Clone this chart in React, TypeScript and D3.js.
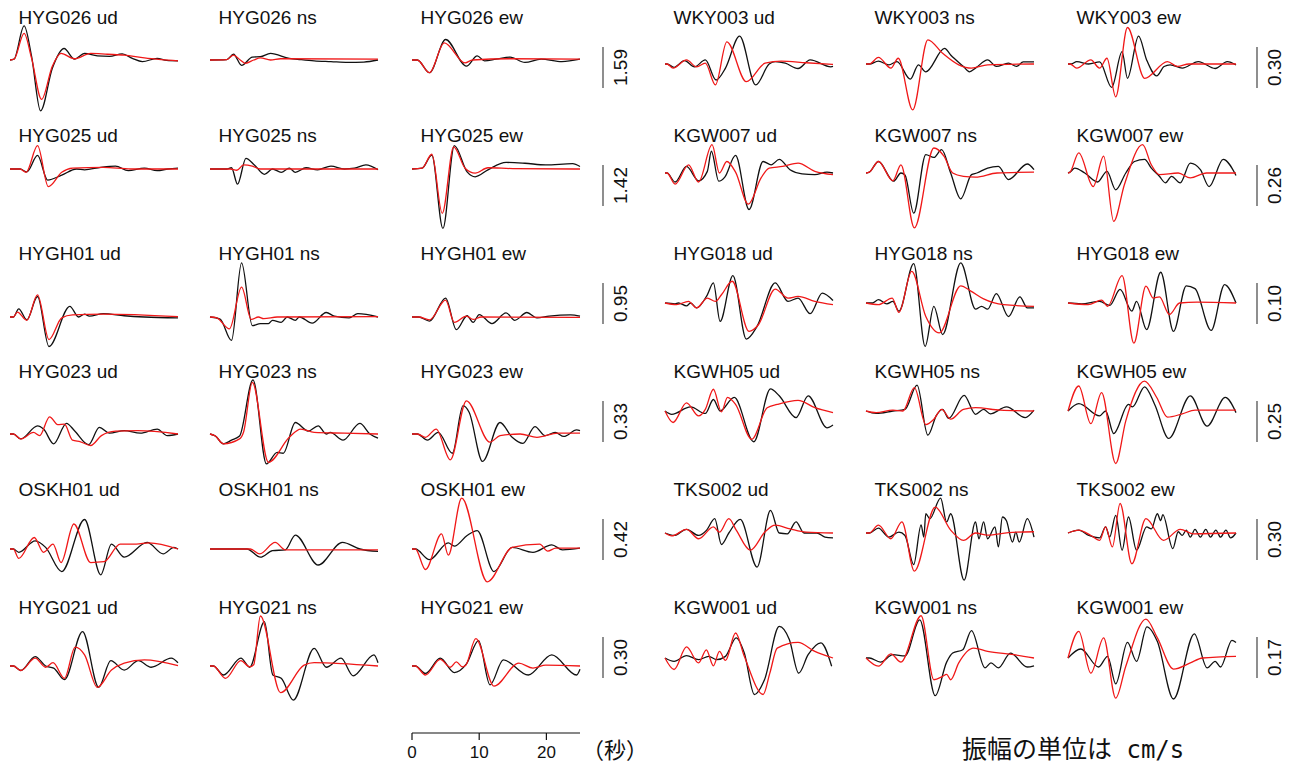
import React from "react";
import * as d3 from "d3";

// ---------- DATA ----------
const stations = ["HYG026", "HYG025", "HYGH01", "HYG023", "OSKH01", "HYG021", "WKY003", "KGW007", "HYG018", "KGWH05", "TKS002", "KGW001"];
const components = ["ud", "ns", "ew"];
// amplitude (cm/s) represented by each row's scale bar
const amplitudes = [1.59, 1.42, 0.95, 0.33, 0.42, 0.3, 0.3, 0.26, 0.1, 0.25, 0.3, 0.17];
const timeTicks = [0, 10, 20];
const timeMax = 25;

// traces: [time (s), amplitude relative to scale bar]; order ud, ns, ew
const obsHYG026 = [
  [[0,0],[0.6,0.02],[2.1,0.83],[3.2,0.1],[4.55,-1.24],[6.3,-0.2],[8.05,0.28],[9.6,0.02],[11.1,0.16],[13,0.1],[14.8,0.09],[16.7,0.15],[18.2,0.04],[19.7,-0.04],[21.9,0.04],[23.3,-0.01],[25,-0.02]],
  [[0,0],[2.5,0.01],[3.5,0.14],[4.7,-0.13],[6.3,0.07],[7.5,0.08],[9.0,0.16],[11.8,0.04],[13.5,0.01],[15.5,-0.02],[18,-0.04],[20.5,-0.06],[22.9,-0.05],[25,0]],
  [[0,0],[0.8,0],[2.6,-0.31],[5.0,0.5],[8.1,-0.15],[9.7,0.1],[10.8,-0.02],[12.5,0.02],[14.6,0.07],[16.8,-0.06],[19.2,0.02],[22.3,-0.04],[25,0.02]],
];
const synHYG026 = [
  [[0,0],[0.6,0.02],[2.1,0.65],[3.2,0.05],[4.7,-0.96],[6.3,-0.15],[7.6,0.16],[9.6,0.03],[12,0.16],[14.5,0.14],[17,0.12],[20,0.05],[22.5,0.01],[25,-0.02]],
  [[0,0],[2.5,0.01],[3.5,0.12],[4.5,0],[5.3,-0.08],[6.5,0],[7.5,0.05],[9,0],[10.5,0.03],[25,0.02]],
  [[0,0],[0.8,0],[2.6,-0.31],[4.8,0.42],[7.9,-0.07],[9,0],[14.5,0.03],[25,0.02]],
];
const obsHYG025 = [
  [[0,0],[1.5,0],[2.5,-0.07],[4.1,0.33],[5.6,-0.27],[7.7,-0.15],[9.9,0],[11.1,-0.02],[13.5,0.04],[15.7,0.07],[17.6,-0.04],[20,0.02],[21.9,-0.04],[23.5,0],[25,0.02]],
  [[0,0],[2.5,0],[3.2,0.03],[4.1,-0.37],[5.35,0.26],[6.6,0.1],[8.1,-0.13],[9.3,0],[10.6,-0.08],[11.8,0.02],[12.7,-0.08],[14.3,0.03],[16,-0.02],[18,0.07],[20,0],[21.5,0.02],[23.2,0.1],[25,-0.02]],
  [[0,0],[1.5,0.02],[2.95,0.34],[4.6,-1.45],[6.3,0.57],[8.2,-0.07],[9.4,-0.19],[11.3,-0.02],[14,0.16],[16.8,0.14],[19.9,0.1],[23.9,0.13],[25,0.06]],
];
const synHYG025 = [
  [[0,0],[1.5,0],[2.4,-0.08],[4.1,0.57],[5.7,-0.43],[7.7,-0.08],[9.3,0.02],[13.9,0.04],[18,0],[25,0]],
  [[0,0],[3,0],[4,-0.03],[5,0.1],[6.3,0.07],[7.5,0],[25,0]],
  [[0,0],[1.5,0.02],[2.95,0.36],[4.5,-1.08],[6.2,0.54],[7.9,0.02],[9.4,-0.1],[11.3,0.03],[15,0.01],[25,0]],
];
const obsHYGH01 = [
  [[0,0],[0.5,0],[1.3,0.2],[2.5,-0.07],[4.1,0.5],[5.8,-0.72],[8.9,0.26],[10.2,0],[11.1,0.07],[11.8,0.02],[13.9,0.08],[17,0.03],[20,0],[25,-0.02]],
  [[0,0],[1.5,-0.05],[3.2,-0.57],[4.7,1.32],[6.3,-0.21],[7.5,-0.16],[8.7,-0.16],[9.3,-0.08],[10.6,-0.13],[11.5,0],[12.7,-0.08],[13.3,0],[15.2,-0.15],[17.3,0.11],[18.5,0.02],[20.7,-0.02],[22,0.08],[25,0]],
  [[0,0],[1,0],[2.6,-0.1],[5.0,0.46],[6.6,-0.31],[8.2,0.03],[9.1,-0.13],[10,0.06],[11.9,-0.16],[14,0.1],[15.3,-0.08],[17.1,0.11],[18.6,-0.02],[20.4,0.02],[23.6,0.05],[25,0.02]],
];
const synHYGH01 = [
  [[0,0],[0.5,0],[1.1,0.12],[2.5,-0.08],[4.1,0.54],[5.8,-0.55],[7.7,-0.02],[9.3,0.05],[13.9,0.07],[25,0.01]],
  [[0,0],[1,-0.02],[2.9,-0.29],[4.7,0.73],[6.15,-0.06],[7.2,0],[8,-0.04],[10,0],[25,0.01]],
  [[0,0],[1,0],[2.6,-0.07],[5.0,0.41],[6.3,-0.13],[8.1,0.02],[9.1,-0.06],[10.3,0],[25,-0.01]],
];
const obsHYG023 = [
  [[0,0],[0.5,0],[1.6,-0.12],[4.1,0.2],[5.0,0.12],[6.5,-0.24],[8.4,0.26],[9.6,0.08],[11.7,-0.26],[13.3,0.16],[14.8,0.02],[17,0.08],[19.4,0.02],[21.9,0.12],[23.4,-0.04],[25,0]],
  [[0,0],[0.8,-0.05],[2.0,-0.24],[3.2,-0.15],[4.4,-0.05],[6.4,1.32],[8.4,-0.73],[10,-0.45],[10.9,-0.47],[12.7,0.28],[14.6,0.07],[16.1,0.2],[17.3,0],[17.9,0.04],[19.8,-0.15],[22.3,0.26],[23.8,0],[25,-0.1]],
  [[0,0],[0.8,0],[2.3,-0.15],[3.9,0.04],[6.0,-0.47],[7.6,0.69],[8.5,0.53],[10.5,-0.67],[13.1,0.28],[14.9,-0.08],[16.5,-0.23],[18.3,0.18],[19.8,-0.04],[21.3,0.04],[22.6,-0.06],[24.5,0.1],[25,0.08]],
];
const synHYG023 = [
  [[0,0],[0.5,0],[1.6,-0.12],[3.5,0.04],[4.4,-0.04],[5.9,0.42],[7.1,0.23],[8.1,0.24],[9.3,-0.15],[10.5,-0.19],[12,-0.28],[13.6,-0.04],[15.7,0.07],[19,0.08],[25,0]],
  [[0,0],[0.8,-0.05],[2.0,-0.24],[4.4,-0.12],[5.0,0.05],[6.3,1.26],[8.7,-0.69],[11.8,-0.08],[13.5,0.12],[15.5,0.04],[20,0.02],[25,0]],
  [[0,0],[0.8,0],[2.0,-0.08],[3.6,0.12],[5.7,-0.63],[8.1,0.81],[11.6,-0.2],[13.1,-0.04],[16.1,0],[18.6,-0.08],[21.7,0.02],[25,0.02]],
];
const obsOSKH01 = [
  [[0,0],[0.5,0],[1.3,-0.08],[3.75,0.2],[5.3,0.04],[7.7,-0.55],[11.1,0.72],[13.5,-0.63],[15.1,0.12],[17,-0.2],[20.4,0.16],[22.8,-0.12],[24.4,0.04],[25,0]],
  [[0,0],[5.5,0],[7.5,-0.2],[9.3,-0.04],[11.2,-0.02],[12.7,0.34],[16.1,-0.39],[19.7,0.16],[22.3,0],[25,-0.06]],
  [[0,0],[0.5,0],[2.6,-0.26],[5.4,0.15],[6.3,0.07],[8.2,0.33],[9.7,0.45],[12.2,-0.55],[14.9,0.04],[18,-0.08],[20.8,0.1],[22.4,-0.02],[25,0.02]],
];
const synOSKH01 = [
  [[0,0],[0.5,0],[1.3,-0.23],[3.6,0.28],[5,-0.08],[6.4,0.12],[7.6,-0.33],[9.5,0.61],[12,-0.33],[14,-0.31],[16.4,0.12],[18.8,0.12],[20.7,0.15],[25,0]],
  [[0,0],[6.0,0],[7.4,-0.12],[9.7,0.16],[11.2,-0.02],[25,-0.02]],
  [[0,0],[0.5,0],[2.0,-0.5],[4.4,0.37],[5.4,-0.15],[7.4,1.24],[11.2,-0.8],[14.9,0.04],[19,0.12],[20.2,-0.05],[21.4,0.02],[25,0.02]],
];
const obsHYG021 = [
  [[0,0],[0.5,0],[1.6,-0.11],[3.75,0.23],[5.3,0],[6.5,-0.05],[8.1,-0.33],[10.8,0.84],[13.2,-0.52],[15,0.13],[17,-0.1],[19.1,0.13],[21,-0.03],[24,0.19],[25,0.08]],
  [[0,0],[0.5,0],[2.0,-0.22],[4.6,0.19],[5.9,-0.03],[8.1,1.08],[9.35,-0.22],[10.6,-0.3],[12.4,-0.83],[15.5,0.43],[17.3,-0.03],[19.5,0.19],[21.3,-0.24],[24.4,0.27],[25,0.08]],
  [[0,0],[0.5,0],[2,-0.18],[4.2,0.19],[6.3,-0.16],[8.1,0.05],[9.9,0.62],[11.6,-0.46],[13.6,0.15],[17.3,-0.22],[20.8,0.27],[24.5,-0.22],[25,-0.08]],
];
const synHYG021 = [
  [[0,0],[0.5,0],[1.6,-0.11],[3.75,0.19],[5.3,-0.03],[6.4,0.08],[8.1,-0.3],[9.7,0.46],[11.1,0.27],[13,-0.52],[15.1,-0.1],[17,0.07],[20,0.15],[25,0.01]],
  [[0,0],[0.5,0],[2.3,-0.3],[4.6,0.13],[5.9,-0.02],[6.5,0.03],[7.5,1.22],[10.5,-0.65],[14,0.02],[15.5,0.08],[19.5,0.06],[25,0]],
  [[0,0],[0.5,0],[2,-0.22],[4.2,0.16],[5.7,-0.03],[6.6,0.1],[7.5,-0.02],[8.0,0.02],[9.5,0.67],[12.2,-0.49],[15.9,0.07],[18.0,-0.05],[19.9,0.02],[25,0]],
];
const obsWKY003 = [
  [[0,0],[0.3,0],[1.35,-0.08],[2.9,0.08],[4.4,-0.07],[6,0.1],[7.6,-0.39],[9.0,-0.1],[11.1,0.68],[13.5,-0.51],[15.5,0],[16.4,0.06],[17.9,0.02],[19.8,-0.11],[21.6,0.1],[24.7,-0.07],[25,-0.06]],
  [[0,0],[0.5,0],[1.85,0.07],[3.4,-0.02],[4.6,0.06],[6.6,-0.37],[7.8,-0.02],[8.9,-0.19],[11.7,0.38],[12.6,0.22],[14.5,-0.06],[15.4,-0.19],[16.3,-0.1],[18.1,0.1],[19.4,-0.06],[21.2,0.02],[22.4,-0.06],[23.4,0.05],[25,0.05]],
  [[0,0],[0.5,0],[1.3,0.06],[3.1,0],[4.7,0.05],[6.5,-0.57],[8.05,0.3],[8.85,-0.35],[10.5,0.68],[11.7,0.1],[13.2,-0.29],[14.3,-0.06],[15.2,-0.02],[17.0,-0.1],[19.4,0.06],[21.9,-0.11],[23.7,0.06],[25,-0.02]],
];
const synWKY003 = [
  [[0,0],[0.3,0],[1.2,-0.1],[3.2,0.1],[4.7,-0.07],[6,0.02],[7.5,-0.51],[9.2,0.54],[12.1,-0.43],[14.9,0.02],[17.3,0.07],[21,0.03],[25,-0.01]],
  [[0,0],[0.5,0],[1.85,0.16],[3.7,-0.1],[4.8,0.14],[6.95,-1.12],[9.2,0.59],[11.4,0.26],[13.8,-0.02],[15.7,-0.1],[18.1,-0.02],[25,0]],
  [[0,0],[0.3,0],[1.3,-0.1],[3.4,0.1],[4.7,-0.1],[5.8,0.14],[7.1,-0.8],[8.85,0.89],[11.4,-0.35],[14.8,0.06],[16.3,-0.06],[18,0],[25,0]],
];
const obsKGW007 = [
  [[0,0],[0.3,0],[1.5,-0.22],[3.2,0.16],[5,-0.19],[6.3,0.04],[6.9,0.53],[8,-0.2],[8.9,-0.1],[10.5,0.43],[12.5,-0.89],[14.6,0.28],[15.8,0.2],[17,0.33],[18.6,0.08],[20.4,-0.02],[22.3,-0.04],[24.1,0.02],[25,0]],
  [[0,0],[0.5,0.02],[1.85,0.28],[4.1,-0.2],[5.2,0],[5.8,-0.05],[7.1,-0.98],[8.9,0.45],[10.1,0.38],[11.25,0.57],[12.6,0],[14.1,-0.63],[15.7,-0.04],[16.5,0],[18.1,0.12],[19.7,0.16],[21.2,-0.16],[24,0.22],[25,0.08]],
  [[0,0],[0.3,0.02],[1,0.12],[2.5,0],[4.4,-0.22],[5.8,0.04],[7.1,-0.41],[8.6,0],[9.9,0.28],[11.4,0.33],[12.4,0.12],[13.6,-0.08],[14.5,-0.24],[15.4,-0.08],[16.7,-0.24],[18.2,0.24],[19.7,0.08],[21,-0.33],[23.1,0.33],[25,-0.06]],
];
const synKGW007 = [
  [[0,0],[0.3,0],[1.5,-0.27],[3.5,0.2],[5,-0.22],[7,0.69],[8.1,0],[9.2,0.28],[10.5,0.02],[12.4,-0.76],[14.3,-0.12],[15.5,0.12],[17.5,0.16],[19.8,0.24],[22.3,0.04],[25,-0.04]],
  [[0,0],[0.5,0.02],[1.85,0.28],[4,-0.19],[5.2,0.2],[7.2,-1.34],[10.1,0.61],[11.6,0.41],[12.9,0],[14.5,-0.08],[16.3,-0.1],[19.5,0],[25,0.02]],
  [[0,0],[0.3,0.02],[1.6,0.49],[3.75,-0.33],[5.3,0.41],[6.8,-1.18],[8.4,-0.28],[11.1,0.69],[12.4,0.2],[13.6,-0.04],[16.4,0],[18.2,-0.12],[20.6,0],[25,0]],
];
const obsHYG018 = [
  [[0,0],[1.5,-0.02],[2.0,0],[3.2,-0.07],[3.8,0],[4.7,-0.12],[6.3,0.2],[7.2,0.49],[8.2,-0.45],[10.1,0.67],[12.1,-0.88],[13.7,-0.57],[16.4,0.49],[18.3,0.04],[19.8,0.12],[21.6,-0.26],[23.4,0.24],[25,0.06]],
  [[0,0],[1,0],[1.85,0.08],[3.1,-0.02],[4,0.04],[4.9,-0.2],[7.1,0.96],[8.8,-1.06],[10.1,-0.08],[11.4,-0.77],[14.1,0.98],[16.3,-0.15],[17.2,-0.08],[18.1,-0.15],[19.4,0.23],[21.2,-0.33],[22.9,0.15],[24.0,-0.12],[25,-0.12]],
  [[0,0],[2,-0.02],[4.7,0.04],[6.2,-0.06],[7.75,0.33],[9.5,-0.2],[10.2,0.04],[11.7,-0.65],[13.8,0.75],[15.7,-0.69],[17.6,0.42],[18.9,0.35],[21.3,-0.67],[23.3,0.45],[25,0]],
];
const synHYG018 = [
  [[0,0],[1.7,-0.04],[3.5,0.04],[4.7,-0.12],[6.3,0.12],[7.5,0.04],[8.4,0.2],[10,0.53],[12.5,-0.69],[13.9,-0.53],[16.4,0.34],[18.3,0.12],[19.8,0.16],[22.3,0.04],[25,-0.04]],
  [[0,0],[1.85,-0.04],[3.9,0.12],[4.9,-0.23],[6.8,0.77],[8.9,-0.33],[10.9,-0.73],[14.1,0.42],[15.6,0.29],[17.5,0.1],[20.5,-0.04],[25,-0.08]],
  [[0,0],[3,-0.04],[5,0.07],[5.9,-0.08],[8.05,0.67],[9.8,-0.98],[11.6,0.41],[12.7,0.12],[13.6,0.15],[15.1,-0.28],[16.6,0],[19.2,0.02],[25,0]],
];
const obsKGWH05 = [
  [[0,0],[1,-0.08],[3.8,0.1],[6,-0.06],[7.2,0.28],[8.2,0],[10.3,0.33],[13.2,-0.75],[15.7,0.54],[17,0.37],[19.5,-0.16],[21.3,0.37],[24.1,-0.41],[25,-0.34]],
  [[0,0],[1.5,-0.06],[4,0],[5.8,0.04],[7.6,0.63],[9.2,-0.59],[10.5,-0.1],[11.4,0.04],[12.3,-0.18],[14.6,0.38],[16.3,-0.08],[17.5,0.04],[18.5,-0.07],[20.9,0.1],[23.7,-0.16],[25,0.02]],
  [[0,0],[1.6,0.18],[4.7,-0.12],[5.6,0],[6.8,-0.55],[9,0.16],[9.6,0.1],[11.4,0.59],[12.9,0.16],[15,-0.67],[18.2,0.37],[20.7,-0.37],[23.4,0.33],[25,-0.04]],
];
const synKGWH05 = [
  [[0,0],[1.2,-0.28],[3.2,0.2],[5,-0.12],[6,0.04],[7.2,0.53],[8.4,-0.02],[9.3,0.33],[10.5,0.16],[12.9,-0.69],[15.2,0.08],[16.7,0.16],[19.8,0.26],[22.3,0.08],[25,-0.04]],
  [[0,0],[1.5,-0.04],[4,0.02],[5.5,0],[7.2,0.57],[8.9,-0.33],[10.1,-0.2],[11.25,0.04],[12.6,-0.2],[14.5,0.04],[16.3,0.08],[20,0.02],[25,0]],
  [[0,0],[1.6,0.61],[3.4,-0.31],[5,0.45],[7.1,-1.28],[8.6,-0.24],[11.4,0.73],[13.2,0.33],[14.8,-0.15],[17,-0.07],[18.9,0.02],[25,0.02]],
];
const obsTKS002 = [
  [[0,0],[1.35,-0.06],[3.2,0.09],[5,-0.06],[6.2,0.07],[7.4,0.35],[8.4,-0.28],[9.5,0],[11.2,0.33],[13.7,-0.83],[15.7,0.55],[17,0],[18.2,-0.02],[19.5,0.27],[20.7,0],[22.6,0],[23.8,-0.1],[25,-0.12]],
  [[0,0],[0.5,0],[1.85,0.12],[3.4,-0.1],[4.9,0.02],[5.8,-0.06],[7.1,-0.77],[8.2,0.2],[8.6,-0.1],[8.9,0.47],[9.5,0.35],[11.1,0.85],[12.0,0.27],[12.6,0.47],[14.6,-1.15],[16.3,0.27],[16.8,-0.14],[17.5,0.27],[18.1,-0.14],[19.2,0.15],[19.7,-0.34],[20.3,0.39],[20.9,0.3],[21.8,-0.22],[22.3,0.02],[22.8,-0.22],[24,0.35],[25,-0.1]],
  [[0,0],[1.6,0.07],[3.1,-0.06],[4.7,-0.12],[5.6,0.15],[6.2,-0.1],[7.1,0.43],[8.05,-0.42],[9,0.39],[10.2,-0.42],[11.7,0.15],[12.4,0.1],[13.3,0.47],[13.8,0.3],[14.1,0.45],[15.6,-0.38],[16.4,0.03],[17.0,-0.06],[17.6,0.07],[18.2,-0.1],[18.9,0.09],[19.7,-0.1],[20.5,0.09],[21.2,-0.1],[22,0.07],[22.7,-0.1],[23.5,0.07],[24.2,-0.12],[25,0]],
];
const synTKS002 = [
  [[0,0],[1,-0.07],[3.2,0.09],[5,-0.14],[7.2,0.15],[8.1,0.02],[9.5,0.35],[10.6,0.07],[12.7,-0.42],[14.9,0.03],[16.4,0.19],[18.6,0.1],[21,0.02],[25,0]],
  [[0,0],[0.5,0],[1.85,0.19],[3.7,-0.14],[5.35,0.27],[7.2,-0.93],[10.3,0.63],[12.6,0.07],[14.5,-0.18],[16.3,0],[18.1,-0.05],[21.2,0.01],[25,0.03]],
  [[0,0],[1.6,0.07],[3.4,-0.06],[4.7,-0.18],[5.6,0.15],[6.6,-0.34],[7.75,0.72],[9.5,-0.75],[11.6,0.35],[14.2,-0.18],[16.7,0.09],[18.7,-0.02],[25,0]],
];
const obsKGW001 = [
  [[0,0],[1.35,-0.08],[3.2,0.06],[5,-0.04],[6.5,0.04],[7.7,-0.04],[9.0,0.04],[10.6,0.49],[11.8,0.12],[13.3,-0.89],[14.8,-0.53],[17,0.77],[18.5,0.45],[19.9,-0.37],[21.3,0.08],[23.2,0.37],[24.8,-0.2]],
  [[0,0],[0.5,0],[2.15,-0.1],[4,0.08],[5.8,0.05],[8,0.93],[10.3,-0.92],[12,-0.1],[12.9,0.12],[14.4,0.2],[15.7,0.67],[17.7,-0.24],[18.6,-0.12],[19.7,-0.24],[21.5,0.12],[24,-0.22],[25,-0.19]],
  [[0,0],[1.9,0.22],[4.55,-0.22],[5.9,0.04],[7.1,-0.63],[8.85,0.38],[10.2,-0.08],[11.75,0.76],[13.3,0.4],[15.7,-1.0],[18.8,0.59],[20.7,-0.24],[21.9,-0.08],[22.7,-0.22],[24.4,0.43],[25,0.38]],
];
const synKGW001 = [
  [[0,0],[1.35,-0.28],[3.2,0.27],[5,-0.12],[6.15,0.2],[7.2,-0.19],[8.1,0.16],[9.0,-0.06],[10.5,0.61],[11.8,0.04],[14.6,-0.89],[15.6,-0.37],[16.7,0.24],[19.8,0.38],[22.3,0.16],[25,0]],
  [[0,0],[1.85,-0.2],[3.7,0.1],[5.2,-0.1],[8.2,1.03],[10.1,-0.53],[11.4,-0.45],[12.0,-0.4],[12.6,-0.53],[13.8,-0.12],[16,0.24],[18.1,0.16],[22,0.08],[25,0]],
  [[0,0],[1.6,0.65],[3.4,-0.37],[5.3,0.49],[7.1,-0.98],[8.6,-0.2],[11.6,0.95],[13.3,0.49],[15.7,-0.27],[18.2,-0.12],[20,0],[25,0.04]],
];

const observed = [obsHYG026, obsHYG025, obsHYGH01, obsHYG023, obsOSKH01, obsHYG021, obsWKY003, obsKGW007, obsHYG018, obsKGWH05, obsTKS002, obsKGW001];
const synthetic = [synHYG026, synHYG025, synHYGH01, synHYG023, synOSKH01, synHYG021, synWKY003, synKGW007, synHYG018, synKGWH05, synTKS002, synKGW001];

// ---------- LAYOUT ----------
const W = 1292;
const H = 765;
const colX = [10, 210, 412, 665, 866, 1068];
const panelW = 168;
const rowH = 118;
const baselines = [
  [60, 169, 317, 434, 549, 666],
  [64, 173, 303, 411, 533, 658],
];
const barX = [603, 1257];
const barTop = 47;
const barLen = 41;
const labelFont = "'Liberation Sans', Arial, Helvetica, sans-serif";
const cjkFont = "'Noto Sans CJK JP', 'Noto Sans CJK SC', sans-serif";

export default function App() {
  const x = d3.scaleLinear().domain([0, timeMax]).range([0, panelW]);

  const panels: React.ReactNode[] = [];
  stations.forEach((st, i) => {
    const g = i < 6 ? 0 : 1;
    const r = i % 6;
    const base = baselines[g][r];
    const y = d3.scaleLinear().domain([-1, 1]).range([base + barLen, base - barLen]);
    components.forEach((comp, j) => {
      const x0 = colX[g * 3 + j];
      const line = d3
        .line<number[]>()
        .x((d) => x0 + x(d[0]))
        .y((d) => y(d[1]))
        .curve(d3.curveMonotoneX);
      panels.push(
        <g key={`${st}-${comp}`}>
          <text x={x0 + 8.5} y={rowH * r + 24} fontSize={19} fontFamily={labelFont} fill="#111">
            {`${st} ${comp}`}
          </text>
          <path d={line(observed[i][j] as number[][]) || ""} fill="none" stroke="#111" strokeWidth={1.3} />
          <path d={line(synthetic[i][j] as number[][]) || ""} fill="none" stroke="#f01818" strokeWidth={1.3} />
        </g>
      );
    });
    // scale bar
    const yb = d3.scaleLinear().domain([0, amplitudes[i]]).range([rowH * r + barTop + barLen, rowH * r + barTop]);
    const bx = barX[g];
    const cy = (yb(0) + yb(amplitudes[i])) / 2;
    panels.push(
      <g key={`bar-${st}`}>
        <line x1={bx} x2={bx} y1={yb(0)} y2={yb(amplitudes[i])} stroke="#444" strokeWidth={1.2} />
        <text
          transform={`translate(${bx + 24},${cy}) rotate(-90)`}
          textAnchor="middle"
          fontSize={19}
          fontFamily={labelFont}
          fill="#111"
        >
          {amplitudes[i].toFixed(2)}
        </text>
      </g>
    );
  });

  // time axis
  const ax0 = colX[2];
  const axY = 733;
  const axis = (
    <g>
      <line x1={ax0 + x(0)} x2={ax0 + x(timeMax)} y1={axY} y2={axY} stroke="#111" strokeWidth={1.2} />
      {timeTicks.map((t) => (
        <g key={t}>
          <line x1={ax0 + x(t)} x2={ax0 + x(t)} y1={axY} y2={axY + 7} stroke="#111" strokeWidth={1.2} />
          <text x={ax0 + x(t)} y={758} textAnchor="middle" fontSize={17} fontFamily={labelFont} fill="#111">
            {t}
          </text>
        </g>
      ))}
      <text x={582} y={758} fontSize={22} fontFamily={cjkFont} fill="#111">
        （秒）
      </text>
    </g>
  );

  return (
    <svg
      width={W}
      height={H}
      viewBox={`0 0 ${W} ${H}`}
      style={{ position: "absolute", left: 0, top: 0, background: "#fff" }}
    >
      <rect x={0} y={0} width={W} height={H} fill="#fff" />
      {panels}
      {axis}
      <text x={962} y={758} fontSize={25} fontFamily={cjkFont} fill="#111">
        振幅の単位は
        <tspan fontFamily="'DejaVu Sans Mono', 'Liberation Mono', monospace" fontSize={24}>
          {" cm/s"}
        </tspan>
      </text>
    </svg>
  );
}
